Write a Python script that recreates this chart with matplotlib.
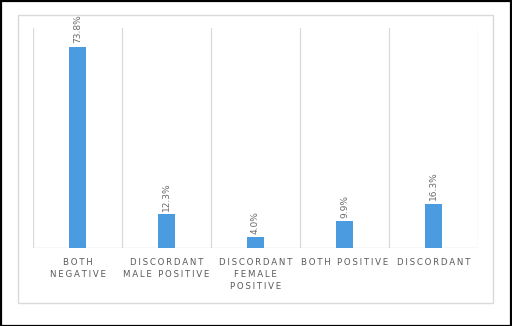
import matplotlib
matplotlib.use("Agg")
import matplotlib.pyplot as plt
from matplotlib.patches import Rectangle
import numpy as np

categories = ["BOTH\nNEGATIVE", "DISCORDANT\nMALE POSITIVE", "DISCORDANT\nFEMALE\nPOSITIVE",
              "BOTH POSITIVE", "DISCORDANT"]
values = [73.8, 12.3, 4.0, 9.9, 16.3]
labels = ["73.8%", "12.3%", "4.0%", "9.9%", "16.3%"]

W, H = 512, 326
fig = plt.figure(figsize=(W/100, H/100), dpi=100)
fig.patch.set_facecolor("white")

# outer black frame
fig.add_artist(Rectangle((0.5/W, 0.5/H), 1 - 1.5/W, 1 - 1.5/H, transform=fig.transFigure,
                         fill=False, edgecolor="black", linewidth=1.6))
# inner chart-area border
fig.add_artist(Rectangle((18/W, 1 - 303/H), (493-18)/W, (303-15)/H, transform=fig.transFigure,
                         fill=False, edgecolor="#d9d9d9", linewidth=1.0))

ax = fig.add_axes([33/W, 1 - 248/H, (478-33)/W, (248-28)/H])
x = np.arange(len(values))
ax.bar(x, values, width=0.18, color="#4a9be0", zorder=3)
ax.set_xlim(-0.5, len(values) - 0.5)
ax.set_ylim(0, 80.6)

for xi in np.arange(-0.5, len(values), 1.0):
    ax.axvline(xi, color="#d9d9d9", linewidth=0.9, zorder=1)
ax.axhline(0, color="#d9d9d9", linewidth=1.0, zorder=2)

for s in ax.spines.values():
    s.set_visible(False)
ax.set_yticks([])
ax.set_xticks(x)

def spaced(t):
    return "\n".join("\u2009".join(line) for line in t.split("\n"))

ax.set_xticklabels([spaced(c) for c in categories], fontsize=6.2, color="#595959",
                   linespacing=1.45, fontfamily="DejaVu Sans")
ax.tick_params(axis="x", length=0, pad=7)

for xi, v, lab in zip(x, values, labels):
    ax.text(xi, v + 1.2, lab, rotation=90, ha="center", va="bottom",
            fontsize=6.5, color="#6b6b6b")

fig.savefig("out.png", dpi=100)
